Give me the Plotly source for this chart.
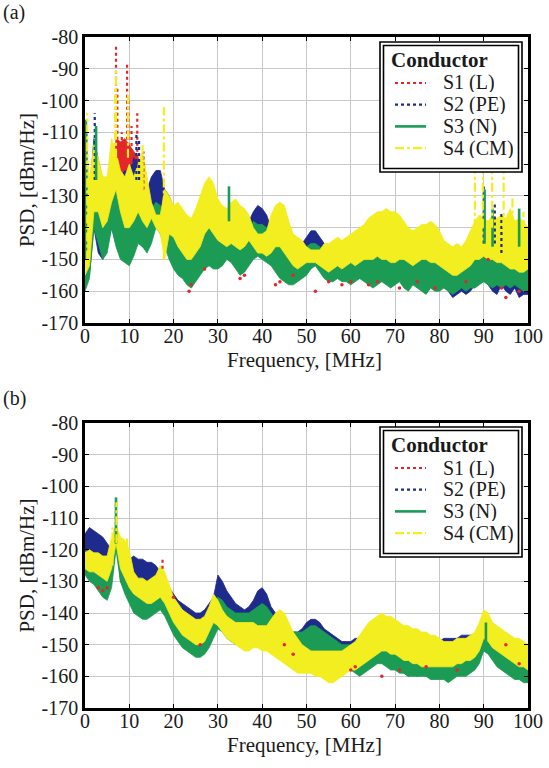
import plotly.graph_objects as go

# ---------------- data ----------------
FREQ = list(range(0, 101))  # MHz

SERIES = ["S1 (L)", "S2 (PE)", "S3 (N)", "S4 (CM)"]
LEGEND_TITLE = "Conductor"
X_TICKS = [0, 10, 20, 30, 40, 50, 60, 70, 80, 90, 100]
Y_TICKS = [-170, -160, -150, -140, -130, -120, -110, -100, -90, -80]

# ---- panel (a): upper / lower edges of each spectrum band, dBm/Hz ----
A_S1_HI = [-115, -132, -118, -122, -128, -130, -124, -112, -113, -112,
           -114, -116, -118, -124, -130, -128, -128, -128, -133, -134,
           -136, -138, -140, -141, -142, -140, -138, -136, -136, -138,
           -140, -140, -139, -140, -142, -142, -142, -140, -138, -137,
           -138, -139, -142, -144, -145, -146, -147, -148, -148, -147,
           -146, -145, -145, -146, -147, -148, -148, -148, -148, -149,
           -149, -148, -148, -148, -147, -147, -147, -147, -148, -148,
           -149, -149, -149, -150, -150, -150, -150, -150, -150, -150,
           -150, -151, -151, -151, -151, -151, -150, -149, -147, -143,
           -140, -143, -141, -145, -143, -147, -148, -149, -149, -150, -150]
A_S1_LO = [-156, -152, -136, -142, -146, -144, -136, -125, -125, -125,
           -125, -128, -140, -142, -144, -141, -136, -138, -142, -146,
           -150, -152, -153, -155, -156, -154, -152, -150, -149, -150,
           -150, -149, -147, -148, -150, -152, -151, -149, -147, -146,
           -147, -148, -149, -151, -153, -154, -155, -155, -154, -153,
           -152, -150, -149, -151, -153, -154, -154, -153, -154, -154,
           -155, -154, -153, -154, -155, -156, -155, -154, -155, -156,
           -155, -154, -156, -157, -155, -156, -157, -158, -156, -157,
           -157, -156, -157, -158, -157, -156, -157, -156, -156, -155,
           -154, -155, -156, -155, -156, -155, -156, -155, -156, -157, -157]
A_S2_HI = [-112, -130, -112, -118, -125, -128, -122, -118, -124, -122,
           -123, -118, -120, -122, -128, -124, -122, -122, -128, -130,
           -134, -136, -138, -140, -140, -138, -136, -134, -134, -136,
           -138, -138, -136, -138, -140, -140, -140, -138, -135, -133,
           -134, -136, -140, -142, -143, -144, -145, -146, -146, -145,
           -143, -141, -141, -143, -145, -146, -146, -146, -146, -147,
           -147, -146, -146, -146, -145, -145, -145, -145, -146, -146,
           -147, -147, -147, -148, -148, -148, -148, -148, -148, -148,
           -148, -149, -149, -149, -149, -149, -148, -147, -145, -140,
           -136, -140, -138, -142, -140, -145, -146, -147, -147, -148, -148]
A_S2_LO = [-158, -155, -140, -148, -150, -146, -140, -145, -148, -150,
           -150, -148, -144, -146, -147, -144, -138, -140, -145, -148,
           -152, -154, -155, -157, -158, -156, -154, -152, -151, -152,
           -152, -151, -149, -150, -152, -154, -153, -151, -149, -148,
           -149, -150, -151, -153, -155, -156, -157, -157, -156, -155,
           -154, -152, -151, -153, -155, -156, -156, -155, -156, -156,
           -157, -156, -155, -156, -157, -158, -157, -156, -157, -158,
           -157, -156, -158, -159, -157, -158, -159, -160, -158, -159,
           -159, -158, -160, -162, -161, -160, -161, -160, -158, -157,
           -156, -158, -160, -161, -158, -160, -161, -159, -162, -161, -161]
A_S3_HI = [-110, -140, -112, -122, -128, -132, -128, -124, -128, -130,
           -130, -130, -128, -130, -133, -134, -132, -133, -140, -138,
           -140, -142, -142, -144, -145, -143, -140, -138, -138, -140,
           -140, -138, -136, -140, -142, -143, -144, -142, -138, -139,
           -139, -140, -143, -144, -145, -147, -148, -150, -150, -148,
           -146, -145, -145, -146, -148, -149, -150, -149, -148, -149,
           -149, -149, -148, -148, -147, -147, -146, -146, -147, -148,
           -148, -149, -149, -149, -148, -149, -150, -150, -149, -150,
           -150, -150, -151, -151, -150, -150, -149, -148, -146, -142,
           -138, -142, -140, -145, -142, -146, -147, -148, -148, -149, -150]
A_S3_LO = [-160, -156, -140, -145, -150, -148, -140, -146, -150, -151,
           -152, -149, -145, -146, -148, -145, -140, -142, -146, -150,
           -153, -155, -156, -158, -159, -157, -155, -153, -152, -153,
           -153, -152, -150, -151, -153, -155, -154, -152, -150, -149,
           -150, -151, -152, -154, -156, -157, -158, -158, -157, -156,
           -155, -153, -152, -154, -156, -157, -157, -156, -157, -157,
           -158, -157, -156, -157, -158, -159, -158, -157, -158, -159,
           -158, -157, -159, -160, -158, -159, -160, -161, -159, -160,
           -160, -159, -160, -161, -160, -159, -160, -159, -159, -158,
           -157, -158, -159, -158, -159, -158, -159, -158, -159, -160, -160]
A_S4_HI = [-106, -125, -114, -118, -124, -124, -112, -116, -122, -124,
           -120, -124, -120, -116, -124, -132, -136, -136, -128, -130,
           -133, -132, -134, -136, -137, -134, -130, -126, -124, -126,
           -131, -133, -134, -132, -131, -133, -134, -136, -140, -142,
           -142, -141, -136, -133, -132, -133, -138, -142, -143, -144,
           -146, -147, -147, -147, -145, -145, -144, -143, -144, -143,
           -142, -141, -140, -139, -137, -136, -135, -135, -134, -135,
           -135, -136, -138, -140, -141, -140, -139, -139, -138, -139,
           -141, -144, -145, -146, -145, -146, -144, -141, -138, -136,
           -137, -138, -136, -137, -136, -137, -134, -138, -137, -138, -140]
A_S4_LO = [-155, -152, -135, -135, -140, -138, -132, -128, -135, -140,
           -140, -138, -135, -138, -140, -137, -140, -142, -150, -142,
           -143, -146, -148, -150, -150, -148, -146, -142, -140, -142,
           -144, -145, -146, -145, -146, -147, -146, -144, -146, -148,
           -148, -149, -148, -146, -146, -148, -150, -152, -153, -152,
           -151, -151, -151, -152, -153, -154, -153, -152, -153, -152,
           -151, -152, -151, -150, -150, -150, -149, -150, -150, -151,
           -151, -150, -150, -151, -152, -151, -150, -150, -151, -151,
           -152, -153, -154, -155, -155, -154, -153, -152, -150, -150,
           -149, -150, -150, -151, -151, -152, -153, -153, -154, -154, -153]

# narrow peaks of panel (a): frequency, peak level, foot level
A_S1_SPK_F = [7.0, 7.3, 8.3, 9.5, 9.8, 10.5, 11.8, 13.2]
A_S1_SPK_TOP = [-83, -96, -110, -88, -100, -108, -104, -116]
A_S1_SPK_BASE = [-118, -118, -120, -118, -118, -120, -118, -128]
A_S2_SPK_F = [0.3, 2.2, 11.6, 12.2, 90.0, 92.5, 94.0]
A_S2_SPK_TOP = [-108, -104, -110, -112, -127, -132, -135]
A_S2_SPK_BASE = [-130, -125, -125, -125, -145, -145, -148]
A_S3_SPK_F = [0.2, 2.5, 32.5, 90.2, 92.0, 98.0]
A_S3_SPK_TOP = [-106, -108, -127, -128, -134, -134]
A_S3_SPK_BASE = [-150, -125, -138, -145, -146, -146]
A_S4_SPK_F = [0.5, 6.8, 7.0, 9.7, 13.0, 17.8, 88.0, 89.8, 91.9, 94.5, 96.5, 99.0]
A_S4_SPK_TOP = [-104, -96, -90, -97, -114, -102, -118, -118, -118, -118, -130, -135]
A_S4_SPK_BASE = [-150, -118, -118, -118, -128, -150, -140, -140, -140, -140, -145, -148]
# isolated S1 points below the bands, panel (a)
A_S1_DOT_F = [23.5, 24.0, 27.0, 35.0, 36.0, 43.0, 44.0, 47.0, 52.0, 55.0, 58.0,
              60.0, 64.0, 66.0, 71.0, 75.0, 79.0, 86.0, 91.0, 94.0, 95.0, 98.0]
A_S1_DOT_V = [-160, -158, -153, -156, -155, -158, -157, -155, -160, -157, -158,
              -157, -158, -157, -159, -157, -159, -157, -150, -159, -162, -160]

# ---- panel (b) ----
B_S1_HI = [-118, -117, -118, -118, -119, -121, -123, -113, -126, -126,
           -126, -126, -127, -127, -128, -128, -129, -130, -133, -135,
           -137, -139, -140, -141, -142, -143, -143, -142, -140, -137,
           -134, -135, -137, -139, -140, -141, -142, -141, -139, -137,
           -136, -138, -141, -143, -145, -146, -147, -148, -148, -148,
           -147, -146, -146, -147, -148, -149, -150, -151, -151, -151,
           -151, -150, -149, -148, -148, -147, -147, -146, -147, -147,
           -148, -149, -149, -150, -150, -151, -151, -151, -151, -151,
           -151, -151, -151, -150, -150, -150, -150, -149, -149, -147,
           -144, -145, -147, -148, -149, -150, -151, -151, -152, -152, -153]
B_S1_LO = [-126, -128, -129, -131, -133, -134, -130, -118, -128, -132,
           -135, -138, -139, -140, -140, -139, -138, -137, -139, -142,
           -145, -147, -149, -150, -151, -152, -152, -151, -149, -146,
           -143, -144, -146, -147, -148, -148, -148, -148, -147, -146,
           -146, -147, -148, -150, -151, -152, -153, -154, -154, -153,
           -152, -150, -150, -151, -153, -154, -155, -156, -156, -156,
           -156, -157, -158, -157, -156, -155, -154, -154, -155, -156,
           -156, -157, -157, -158, -158, -158, -158, -158, -159, -159,
           -159, -159, -160, -159, -158, -158, -158, -157, -156, -154,
           -150, -151, -153, -155, -156, -157, -158, -159, -159, -160, -160]
B_S2_HI = [-115, -113, -114, -115, -116, -118, -120, -112, -124, -124,
           -123, -122, -123, -123, -124, -124, -125, -127, -130, -132,
           -134, -136, -137, -138, -139, -140, -140, -139, -137, -135,
           -128, -130, -133, -135, -137, -138, -139, -138, -136, -133,
           -132, -134, -138, -140, -142, -144, -145, -146, -146, -145,
           -143, -142, -142, -143, -145, -146, -147, -148, -149, -149,
           -149, -148, -148, -147, -147, -147, -146, -146, -146, -147,
           -147, -148, -148, -149, -149, -149, -150, -149, -150, -149,
           -149, -148, -148, -148, -148, -147, -147, -147, -147, -146,
           -144, -143, -145, -146, -147, -148, -148, -149, -150, -150, -151]
B_S2_LO = [-121, -121, -121, -121, -122, -123, -124, -116, -130, -133,
           -130, -129, -130, -130, -130, -130, -130, -131, -134, -137,
           -141, -143, -145, -147, -148, -149, -149, -148, -146, -143,
           -138, -140, -142, -144, -145, -146, -146, -146, -145, -143,
           -142, -144, -146, -149, -151, -152, -153, -154, -154, -153,
           -151, -150, -150, -151, -153, -154, -155, -156, -157, -157,
           -157, -158, -158, -157, -156, -155, -155, -155, -156, -157,
           -157, -158, -159, -160, -159, -160, -159, -160, -160, -159,
           -160, -160, -161, -160, -159, -159, -158, -158, -157, -155,
           -151, -152, -154, -156, -157, -158, -159, -160, -160, -161, -160]
B_S3_HI = [-120, -121, -122, -122, -123, -125, -124, -112, -122, -126,
           -128, -130, -131, -131, -132, -132, -132, -131, -133, -136,
           -138, -140, -142, -143, -144, -145, -145, -144, -142, -138,
           -135, -136, -138, -139, -140, -140, -140, -140, -139, -138,
           -137, -138, -140, -142, -143, -144, -145, -146, -146, -146,
           -145, -144, -144, -145, -146, -147, -148, -149, -150, -150,
           -150, -150, -150, -150, -149, -148, -147, -146, -146, -147,
           -147, -148, -149, -150, -150, -151, -151, -152, -152, -152,
           -152, -152, -152, -151, -151, -151, -151, -150, -149, -147,
           -142, -144, -147, -149, -150, -151, -152, -153, -153, -154, -154]
B_S3_LO = [-128, -130, -131, -133, -135, -136, -132, -120, -130, -134,
           -137, -140, -141, -142, -142, -141, -140, -139, -141, -144,
           -147, -149, -151, -152, -153, -154, -154, -153, -151, -148,
           -145, -146, -148, -149, -150, -150, -150, -150, -149, -148,
           -148, -149, -150, -152, -153, -154, -155, -156, -156, -155,
           -154, -152, -152, -153, -155, -156, -157, -158, -158, -158,
           -158, -159, -160, -159, -158, -157, -156, -156, -157, -158,
           -158, -159, -159, -160, -160, -160, -160, -160, -161, -161,
           -161, -161, -162, -161, -160, -160, -160, -159, -158, -156,
           -152, -153, -155, -157, -158, -159, -160, -161, -161, -162, -162]
B_S4_HI = [-121, -120, -121, -121, -122, -122, -116, -112, -116, -117,
           -120, -127, -129, -129, -130, -129, -128, -125, -127, -131,
           -135, -137, -139, -140, -141, -142, -142, -141, -138, -134,
           -136, -139, -141, -142, -143, -143, -143, -143, -143, -144,
           -144, -144, -142, -140, -139, -140, -143, -146, -148, -150,
           -151, -152, -152, -152, -152, -152, -152, -152, -152, -151,
           -150, -149, -147, -145, -143, -142, -141, -140, -141, -141,
           -142, -143, -144, -144, -145, -145, -146, -146, -147, -147,
           -148, -149, -149, -149, -148, -148, -148, -147, -146, -143,
           -139, -140, -143, -144, -145, -146, -147, -148, -148, -149, -150]
B_S4_LO = [-126, -127, -127, -128, -129, -130, -126, -118, -126, -129,
           -132, -134, -135, -136, -137, -137, -136, -135, -137, -140,
           -143, -145, -147, -148, -149, -150, -150, -149, -146, -143,
           -144, -146, -148, -149, -150, -151, -152, -152, -151, -151,
           -152, -152, -153, -154, -155, -156, -157, -158, -159, -159,
           -159, -159, -160, -160, -161, -162, -162, -161, -160, -159,
           -158, -158, -157, -156, -155, -154, -153, -152, -152, -153,
           -153, -154, -155, -155, -156, -156, -157, -157, -157, -157,
           -157, -157, -157, -157, -156, -156, -155, -155, -154, -152,
           -148, -149, -151, -152, -153, -154, -155, -156, -157, -157, -158]

B_S1_SPK_F = [7.0, 17.5]
B_S1_SPK_TOP = [-106, -123]
B_S1_SPK_BASE = [-118, -126]
B_S2_SPK_F = [7.0]
B_S2_SPK_TOP = [-108]
B_S2_SPK_BASE = [-118]
B_S3_SPK_F = [7.0, 90.5]
B_S3_SPK_TOP = [-103.5, -143]
B_S3_SPK_BASE = [-118, -150]
B_S4_SPK_F = [6.2, 7.1, 9.5]
B_S4_SPK_TOP = [-113, -105, -116]
B_S4_SPK_BASE = [-125, -118, -125]
B_S1_DOT_F = [3.0, 4.0, 5.0, 20.0, 26.0, 45.0, 47.0, 60.0, 61.0, 67.0, 71.0, 77.0, 84.0, 95.0, 98.0]
B_S1_DOT_V = [-132, -133, -132, -135, -150, -150, -153, -158, -157, -160, -158, -157, -158, -150, -156]

# ---------------- style ----------------
COLORS = ["#e3262b", "#1e2a8c", "#1c9b55", "#f3ee1f"]
DASHES = ["dot", "dot", "solid", "dashdot"]
WIDTHS = [2.2, 2.2, 2.6, 2.2]
FONT = "Liberation Serif, Times New Roman, serif"
TXT = "#1a1a1a"
W, H, ML, MR = 549, 768, 85, 21
PW = W - ML - MR


def px(x):  # pixel -> paper x
    return (x - ML) / PW


def py(y):  # pixel -> paper y
    return 1 - y / H


PANELS = {
    "a": dict(hi=[A_S1_HI, A_S2_HI, A_S3_HI, A_S4_HI], lo=[A_S1_LO, A_S2_LO, A_S3_LO, A_S4_LO],
              sf=[A_S1_SPK_F, A_S2_SPK_F, A_S3_SPK_F, A_S4_SPK_F],
              st=[A_S1_SPK_TOP, A_S2_SPK_TOP, A_S3_SPK_TOP, A_S4_SPK_TOP],
              sb=[A_S1_SPK_BASE, A_S2_SPK_BASE, A_S3_SPK_BASE, A_S4_SPK_BASE],
              df=A_S1_DOT_F, dv=A_S1_DOT_V, xa="x", ya="y",
              leg_top=42, xtitle_y=360, label="(a)", label_y=12),
    "b": dict(hi=[B_S1_HI, B_S2_HI, B_S3_HI, B_S4_HI], lo=[B_S1_LO, B_S2_LO, B_S3_LO, B_S4_LO],
              sf=[B_S1_SPK_F, B_S2_SPK_F, B_S3_SPK_F, B_S4_SPK_F],
              st=[B_S1_SPK_TOP, B_S2_SPK_TOP, B_S3_SPK_TOP, B_S4_SPK_TOP],
              sb=[B_S1_SPK_BASE, B_S2_SPK_BASE, B_S3_SPK_BASE, B_S4_SPK_BASE],
              df=B_S1_DOT_F, dv=B_S1_DOT_V, xa="x2", ya="y2",
              leg_top=427, xtitle_y=745, label="(b)", label_y=398),
}

fig = go.Figure()
shapes, annotations = [], []
for key, p in PANELS.items():
    for i in range(4):
        fig.add_trace(go.Scatter(
            x=FREQ + FREQ[::-1], y=p["hi"][i] + p["lo"][i][::-1],
            fill="toself", fillcolor=COLORS[i], mode="lines",
            line=dict(color=COLORS[i], width=0.8),
            xaxis=p["xa"], yaxis=p["ya"], showlegend=False, hoverinfo="skip",
            name=SERIES[i]))
    for i in range(4):
        xs, ys = [], []
        for f, t, b in zip(p["sf"][i], p["st"][i], p["sb"][i]):
            xs += [f, f, None]
            ys += [b, t, None]
        fig.add_trace(go.Scatter(
            x=xs, y=ys, mode="lines", name=SERIES[i], showlegend=False,
            line=dict(color=COLORS[i], width=WIDTHS[i], dash=DASHES[i]),
            xaxis=p["xa"], yaxis=p["ya"]))
    fig.add_trace(go.Scatter(
        x=p["df"], y=p["dv"], mode="markers", name=SERIES[0],
        marker=dict(color=COLORS[0], size=3.5),
        xaxis=p["xa"], yaxis=p["ya"], showlegend=False))

    # legend box (drawn as shapes + text so its spacing matches the original)
    t = p["leg_top"]
    shapes.append(dict(type="rect", xref="paper", yref="paper", layer="above",
                       x0=px(380), x1=px(522), y0=py(t + 130), y1=py(t),
                       fillcolor="white", line=dict(color="black", width=1.6)))
    shapes.append(dict(type="rect", xref="paper", yref="paper", layer="above",
                       x0=px(383.5), x1=px(518.5), y0=py(t + 126.5), y1=py(t + 3.5),
                       fillcolor="rgba(0,0,0,0)", line=dict(color="black", width=1.6)))
    annotations.append(dict(text="<b>" + LEGEND_TITLE + "</b>", x=px(389), y=py(t + 18),
                            xref="paper", yref="paper", showarrow=False,
                            xanchor="left", yanchor="middle", height=22,
                            font=dict(family=FONT, size=21, color=TXT)))
    for i in range(4):
        yy = t + 41 + i * 21.7
        shapes.append(dict(type="line", xref="paper", yref="paper", layer="above",
                           x0=px(395), x1=px(426), y0=py(yy), y1=py(yy),
                           line=dict(color=COLORS[i], width=WIDTHS[i], dash=DASHES[i])))
        annotations.append(dict(text=SERIES[i], x=px(441), y=py(yy),
                                xref="paper", yref="paper", showarrow=False,
                                xanchor="left", yanchor="middle", height=19,
                                font=dict(family=FONT, size=20, color=TXT)))
    # x axis title and panel label
    annotations.append(dict(text="Frequency, [MHz]", x=px(304), y=py(p["xtitle_y"]),
                            xref="paper", yref="paper", showarrow=False,
                            xanchor="center", yanchor="middle",
                            font=dict(family=FONT, size=21, color=TXT)))
    annotations.append(dict(text=p["label"], x=px(14), y=py(p["label_y"]),
                            xref="paper", yref="paper", showarrow=False,
                            xanchor="center", yanchor="middle",
                            font=dict(family=FONT, size=20, color=TXT)))

axis_common = dict(
    showgrid=True, gridcolor="#c9c9c9", gridwidth=1,
    showline=True, linecolor="black", linewidth=2.5, mirror="allticks",
    ticks="inside", ticklen=4, tickcolor="black", tickwidth=1,
    tickfont=dict(family=FONT, size=20, color=TXT),
    zeroline=False, automargin=False, ticklabeloverflow="allow",
)
xcommon = dict(axis_common, range=[0, 100], tickmode="array", tickvals=X_TICKS,
               ticktext=[str(v) for v in X_TICKS], ticklabelstandoff=-7)
ycommon = dict(axis_common, range=[-170, -80], tickmode="array", tickvals=Y_TICKS,
               ticktext=[str(v) for v in Y_TICKS],
               title=dict(text="PSD, [dBm/Hz]", font=dict(family=FONT, size=21, color=TXT), standoff=2))

fig.update_layout(
    width=W, height=H,
    margin=dict(l=ML, r=MR, t=0, b=0),
    paper_bgcolor="white", plot_bgcolor="white",
    xaxis=dict(xcommon, domain=[0, 1], anchor="y"),
    yaxis=dict(ycommon, domain=[py(323), py(37)], anchor="x"),
    xaxis2=dict(xcommon, domain=[0, 1], anchor="y2"),
    yaxis2=dict(ycommon, domain=[py(708), py(423)], anchor="x2"),
    shapes=shapes,
    annotations=annotations,
    showlegend=False,
)

fig.write_html("out.html", config={"displayModeBar": False},
               post_script="document.body.style.margin='0px';")
